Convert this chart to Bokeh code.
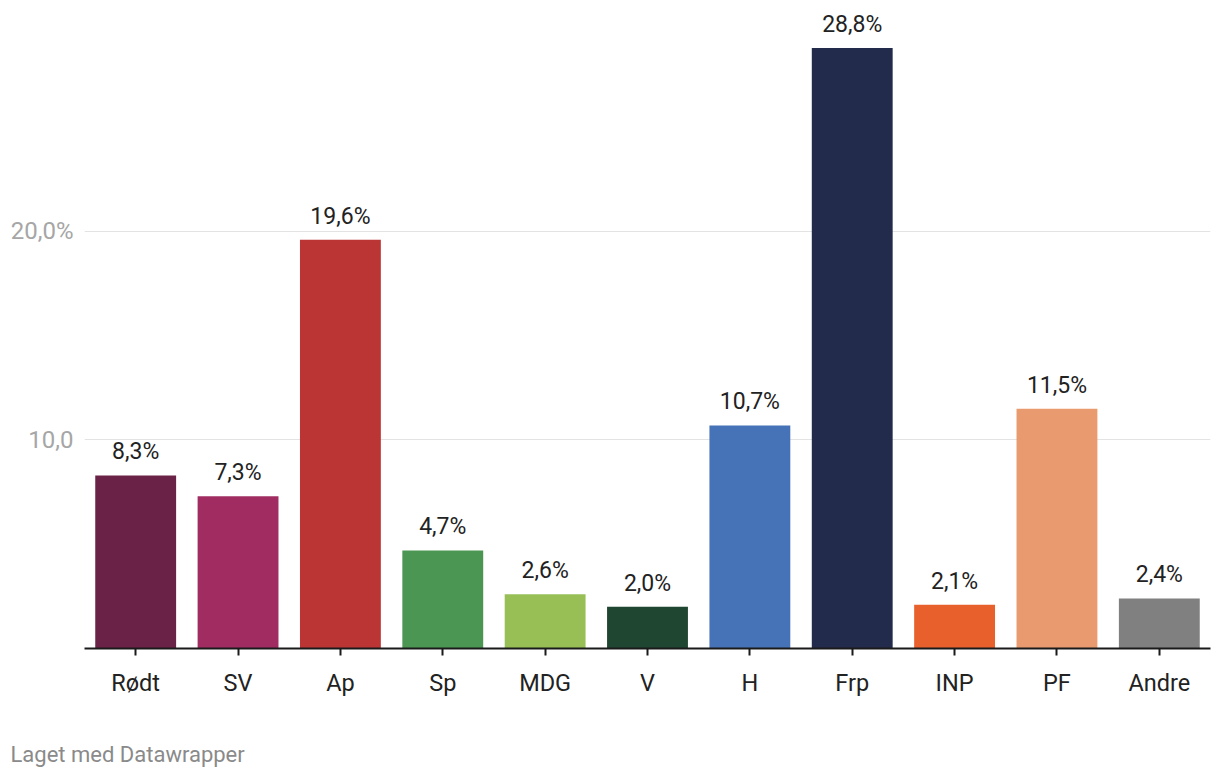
from bokeh.plotting import figure
from bokeh.models import ColumnDataSource, FixedTicker, LabelSet, Title
from bokeh.embed import file_html
from bokeh.resources import INLINE
from bokeh.core.properties import value

parties = ["Rødt", "SV", "Ap", "Sp", "MDG", "V", "H", "Frp", "INP", "PF", "Andre"]
shares = [8.3, 7.3, 19.6, 4.7, 2.6, 2.0, 10.7, 28.8, 2.1, 11.5, 2.4]
colors = ["#6a2346", "#a02c62", "#bb3535", "#4a9652", "#97bf56", "#1f4630",
          "#4673b8", "#222b4c", "#e8612d", "#e99b6f", "#808080"]
labels = [f"{v:.1f}%".replace(".", ",") for v in shares]
y_ticks = [10, 20]
y_tick_labels = {10: "10,0", 20: "20,0%"}
credit_text = "Laget med Datawrapper"

FONT = "Roboto"

src = ColumnDataSource(dict(party=parties, share=shares, color=colors, label=labels))

p = figure(x_range=parties, y_range=(0, 30.5), width=1212, height=770,
           output_backend="svg", toolbar_location=None,
           min_border_left=84, min_border_right=2, min_border_top=12, min_border_bottom=122)
p.outline_line_color = None
p.background_fill_color = "white"
p.border_fill_color = "white"

p.vbar(x="party", top="share", width=0.79, color="color", source=src, line_color=None)

lbl = LabelSet(x="party", y="share", text="label", source=src, y_offset=16,
               text_align="center", text_baseline="alphabetic", text_font=value(FONT),
               text_font_size="23px", text_color="#222222")
p.add_layout(lbl)

# y axis
p.yaxis.ticker = FixedTicker(ticks=y_ticks)
p.yaxis.major_label_overrides = y_tick_labels
p.yaxis.axis_line_color = None
p.yaxis.major_tick_line_color = None
p.yaxis.minor_tick_line_color = None
p.yaxis.major_label_text_font = FONT
p.yaxis.major_label_text_font_size = "24px"
p.yaxis.major_label_text_color = "#a6a6a6"
p.yaxis.major_label_standoff = 5
p.ygrid.ticker = FixedTicker(ticks=y_ticks)
p.ygrid.grid_line_color = "#e3e3e3"
p.ygrid.grid_line_width = 1
p.xgrid.grid_line_color = None

# x axis
p.xaxis.axis_line_color = "#1a1a1a"
p.xaxis.axis_line_width = 2
p.xaxis.major_tick_line_color = "#1a1a1a"
p.xaxis.major_tick_line_width = 2
p.xaxis.major_tick_in = 0
p.xaxis.major_tick_out = 7
p.xaxis.minor_tick_line_color = None
p.xaxis.major_label_text_font = FONT
p.xaxis.major_label_text_font_size = "23.5px"
p.xaxis.major_label_text_color = "#222222"
p.xaxis.major_label_standoff = 13
# invisible spacer below tick labels so the credit line sits lower
p.xaxis.axis_label = " "
p.xaxis.axis_label_text_font_size = "1px"
p.xaxis.axis_label_standoff = 34

credit = Title(text=credit_text, align="left", offset=-74, standoff=4,
               text_font=FONT, text_font_size="22px", text_color="#8a8a8a",
               text_font_style="normal")
p.add_layout(credit, "below")

open("out.html", "w").write(file_html(p, INLINE))
